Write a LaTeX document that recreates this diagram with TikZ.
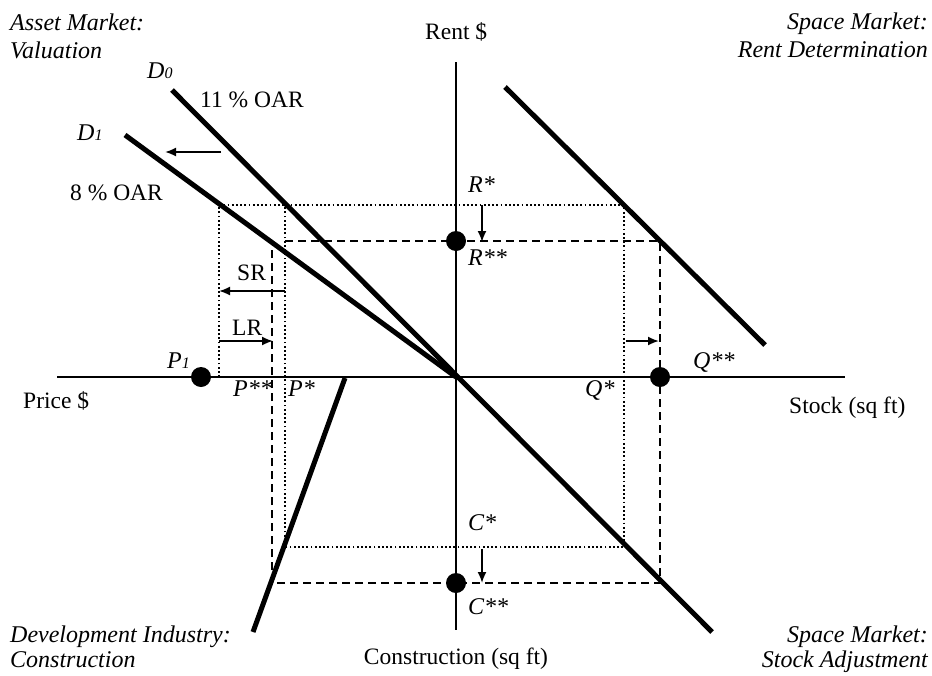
\documentclass[tikz,border=0pt]{standalone}
\usepackage{fontspec}
\setmainfont{Liberation Serif}
\usetikzlibrary{arrows.meta}
\begin{document}
\begin{tikzpicture}[x=1pt,y=-1pt,
  axis/.style={line width=2.4pt},
  curve/.style={line width=5pt},
  dotln/.style={line width=1.8pt,dash pattern=on 1.8pt off 2.4pt},
  dashln/.style={line width=1.8pt,dash pattern=on 8pt off 5pt},
  arr/.style={line width=1.8pt,-{Latex[length=11pt,width=9pt]}},
  dot/.style={circle,fill=black,inner sep=0pt,minimum size=20pt},
  lbl/.style={font=\fontsize{23.5}{26}\selectfont,inner sep=0pt,anchor=base west},
  ilbl/.style={font=\fontsize{24}{26}\selectfont\itshape,inner sep=0pt,anchor=base west},
  ilblr/.style={font=\fontsize{24}{26}\selectfont\itshape,inner sep=0pt,anchor=base east},
  mlbl/.style={font=\fontsize{24}{26}\selectfont\itshape,inner sep=0pt,anchor=base west}
]
\useasboundingbox (0,0) rectangle (932,675);
% axes
\coordinate (vt) at (456,62); \coordinate (vb) at (456,630);
\coordinate (hl) at (57,377); \coordinate (hr) at (845,377);
\draw[axis] (vt) -- (vb);
\draw[axis] (hl) -- (hr);
% curves
\coordinate (d0a) at (172,90); \coordinate (d0b) at (712,632);
\coordinate (d1a) at (125,135); \coordinate (d1b) at (456,377);
\coordinate (sma) at (505,87); \coordinate (smb) at (765,345);
\coordinate (dia) at (345,378); \coordinate (dib) at (253,632);
\draw[curve] (d0a) -- (d0b);
\draw[curve] (d1a) -- (d1b);
\draw[curve] (sma) -- (smb);
\draw[curve] (dia) -- (dib);
% dotted (initial equilibrium)
\coordinate (o1) at (219,205); \coordinate (o2) at (624,205);
\coordinate (o3) at (624,547); \coordinate (o4) at (285,547);
\coordinate (o5) at (285,205); \coordinate (o6) at (219,377);
\draw[dotln] (o6) -- (o1) -- (o2) -- (o3) -- (o4) -- (o5);
% dashed (new equilibrium)
\coordinate (a1) at (285,241); \coordinate (a2) at (660,241);
\coordinate (a3) at (660,583); \coordinate (a4) at (272,583);
\coordinate (a5) at (272,242);
\draw[dashln] (a1) -- (a2) -- (a3) -- (a4) -- (a5);
% arrows
\coordinate (s1) at (221,152); \coordinate (s2) at (165,152);
\draw[arr] (s1) -- (s2);
\coordinate (sr1) at (285,291); \coordinate (sr2) at (219,291);
\draw[arr] (sr1) -- (sr2);
\coordinate (lr1) at (219,341); \coordinate (lr2) at (273,341);
\draw[arr] (lr1) -- (lr2);
\coordinate (r1) at (482,205); \coordinate (r2) at (482,242);
\draw[arr] (r1) -- (r2);
\coordinate (c1) at (482,549); \coordinate (c2) at (482,583);
\draw[arr] (c1) -- (c2);
\coordinate (q1) at (626,341); \coordinate (q2) at (659,341);
\draw[arr] (q1) -- (q2);
% dots
\node[dot] (rdot) at (456,241) {};
\node[dot] (pdot) at (201,377) {};
\node[dot] (qdot) at (660,377) {};
\node[dot] (cdot) at (456,583) {};
% axis labels
\node[lbl] (rent) at (425,39) {Rent \$};
\node[lbl] (price) at (23,408) {Price \$};
\node[lbl] (stock) at (789,413) {Stock (sq ft)};
\node[lbl,anchor=base] (constr) at (456,664) {Construction (sq ft)};
% corner labels
\node[ilbl] (am1) at (10,30) {Asset Market:};
\node[ilbl] (am2) at (10,58) {Valuation};
\node[ilblr] (smr1) at (928,29) {Space Market:};
\node[ilblr] (smr2) at (928,57) {Rent Determination};
\node[ilbl] (di1) at (10,642) {Development Industry:};
\node[ilbl] (di2) at (10,667) {Construction};
\node[ilblr] (sms1) at (928,642) {Space Market:};
\node[ilblr] (sms2) at (928,667) {Stock Adjustment};
% curve labels
\node[mlbl] (d0l) at (147,78) {D{\fontsize{16}{16}\selectfont 0}};
\node[mlbl] (d1l) at (77,140) {D{\fontsize{16}{16}\selectfont 1}};
\node[lbl] (oar11) at (200,107) {11 \% OAR};
\node[lbl] (oar8) at (70,200) {8 \% OAR};
\node[lbl] (srl) at (237,280) {SR};
\node[lbl] (lrl) at (232,335) {LR};
% point labels
\node[mlbl] (rs) at (468,192) {R*};
\node[mlbl] (rss) at (468,265) {R**};
\node[mlbl] (pss) at (233,396) {P**};
\node[mlbl] (ps) at (288,396) {P*};
\node[mlbl] (p1) at (167,368) {P{\fontsize{16}{16}\selectfont 1}};
\node[mlbl] (qs) at (585,396) {Q*};
\node[mlbl] (qss) at (693,368) {Q**};
\node[mlbl] (cs) at (468,530) {C*};
\node[mlbl] (css) at (468,614) {C**};
\end{tikzpicture}
\end{document}
